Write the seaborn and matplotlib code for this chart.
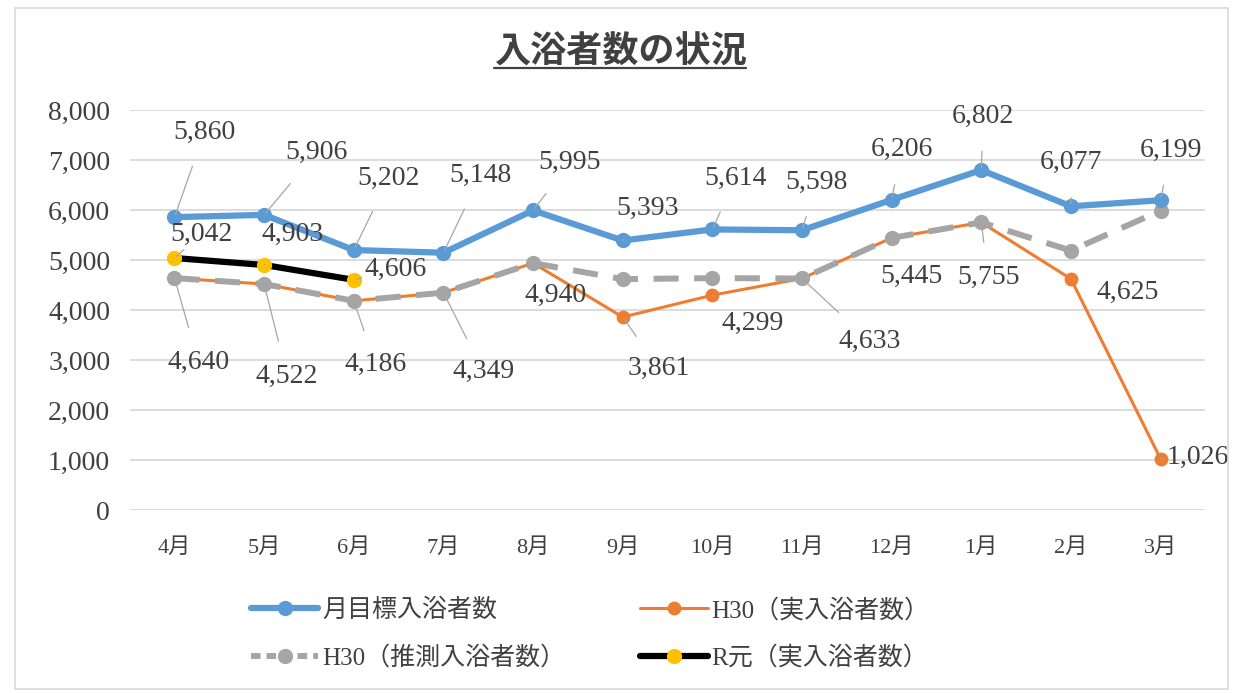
import matplotlib
matplotlib.use('Agg')
import matplotlib.pyplot as plt
import seaborn as sns
import pandas as pd
from matplotlib.lines import Line2D
from matplotlib.patches import Rectangle

months = ['4月', '5月', '6月', '7月', '8月', '9月', '10月', '11月', '12月', '1月', '2月', '3月']
target = [5860, 5906, 5202, 5148, 5995, 5393, 5614, 5598, 6206, 6802, 6077, 6199]
h30_actual = [4640, 4522, 4186, 4349, 4940, 3861, 4299, 4633, 5445, 5755, 4625, 1026]
h30_estimate = [4640, 4522, 4186, 4349, 4940, 4620, 4640, 4633, 5445, 5755, 5190, 5990]
r1_actual = [5042, 4903, 4606]

names = ['月目標入浴者数', 'H30（実入浴者数）', 'H30（推測入浴者数）', 'R元（実入浴者数）']

# label offsets in pixels (dx, dy), dy positive = up
off_target = [(30, 85), (52, 62), (35, 72), (37, 77), (37, 48), (25, 32),
              (23, 51), (15, 48), (10, 50), (2, 54), (0, 44), (10, 50)]
off_actual = [(24, -84), (23, -92), (22, -64), (40, -79), (23, -32), (36, -51),
              (40, -28), (68, -63), (20, -39), (7, -55), (57, -14), (37, 1)]
off_r1 = [(27, 24), (28, 31), (42, 10)]

sns.set_style('white')
plt.rcParams['font.family'] = ['Liberation Serif', 'Noto Sans CJK JP']

fig = plt.figure(figsize=(12.35, 6.93), dpi=100)
ax = fig.add_axes([0.105, 0.264, 0.871, 0.577])

df_t = pd.DataFrame({'month': months, 'v': target})
df_a = pd.DataFrame({'month': months, 'v': h30_actual})
df_e = pd.DataFrame({'month': months, 'v': h30_estimate})
df_r = pd.DataFrame({'month': months[:3], 'v': r1_actual})

blue, orange, grey, black, yellow = '#5B9BD5', '#ED7D31', '#A5A5A5', '#000000', '#FFC000'

sns.lineplot(data=df_a, x='month', y='v', ax=ax, sort=False, color=orange, lw=2.2,
             marker='o', markersize=10, markeredgewidth=0, zorder=3)
sns.lineplot(data=df_e, x='month', y='v', ax=ax, sort=False, color=grey, lw=4.3,
             marker='o', markersize=11, markeredgewidth=0, dashes=(4.2, 2.6), zorder=4)
sns.lineplot(data=df_t, x='month', y='v', ax=ax, sort=False, color=blue, lw=4.5,
             marker='o', markersize=11, markeredgewidth=0, zorder=5)
sns.lineplot(data=df_r, x='month', y='v', ax=ax, sort=False, color=black, lw=4.5,
             marker='o', markersize=11, markeredgewidth=0, markerfacecolor=yellow, zorder=6)

ax.set_xlim(-0.5, 11.5)
ax.set_ylim(0, 8000)
ax.set_yticks(range(0, 8001, 1000))
ax.set_yticklabels([f'{v:,}' for v in range(0, 8001, 1000)], fontsize=20, color='#404040')
ax.tick_params(axis='x', labelsize=16, colors='#404040', pad=20, length=0)
ax.tick_params(axis='y', pad=14, length=0)
ax.set_xlabel('')
ax.set_ylabel('')
ax.yaxis.grid(True, color='#D9D9D9', lw=1.3)
ax.set_axisbelow(True)
for s in ax.spines.values():
    s.set_visible(False)


def put_labels(vals, offs):
    for i, (v, (dx, dy)) in enumerate(zip(vals, offs)):
        far = (dx ** 2 + dy ** 2) ** 0.5 > 34
        ax.annotate(f'{v:,}', xy=(i, v), xytext=(dx, dy), textcoords='offset pixels',
                    ha='center', va='center', fontsize=20, color='#404040', zorder=7,
                    arrowprops=dict(arrowstyle='-', color='#A6A6A6', lw=0.9,
                                    shrinkA=14, shrinkB=2) if far else None)


put_labels(target, off_target)
put_labels(h30_actual, off_actual)
put_labels(r1_actual, off_r1)

# title with underline
title = fig.text(0.502, 0.925, '入浴者数の状況', ha='center', va='center', fontsize=26,
                 fontweight='bold', family=['Noto Sans CJK JP'], color='#404040')
fig.canvas.draw()
bb = title.get_window_extent().transformed(fig.transFigure.inverted())
fig.add_artist(Line2D([bb.x0, bb.x1], [bb.y0 + 0.004, bb.y0 + 0.004], color='#404040', lw=1.6))

handles = [
    Line2D([], [], color=blue, lw=4.5, marker='o', markersize=11, markeredgewidth=0),
    Line2D([], [], color=grey, lw=4.3, marker='o', markersize=11, markeredgewidth=0, dashes=(1.6, 1.0)),
    Line2D([], [], color=orange, lw=2.2, marker='o', markersize=10, markeredgewidth=0),
    Line2D([], [], color=black, lw=4.5, marker='o', markersize=11, markeredgewidth=0, markerfacecolor=yellow),
]
labels = [names[0], names[2], names[1], names[3]]
leg = fig.legend(handles, labels, ncol=2, loc='center', bbox_to_anchor=(0.478, 0.085),
                 frameon=False, fontsize=18, handlelength=2.7, handletextpad=0.15,
                 columnspacing=3.0, labelspacing=0.95)
for t in leg.get_texts():
    t.set_color('#404040')

fig.add_artist(Rectangle((0.012, 0.006), 0.982, 0.982, transform=fig.transFigure,
                         fill=False, edgecolor='#D9D9D9', lw=1.2))

fig.savefig('out.png', dpi=100)
